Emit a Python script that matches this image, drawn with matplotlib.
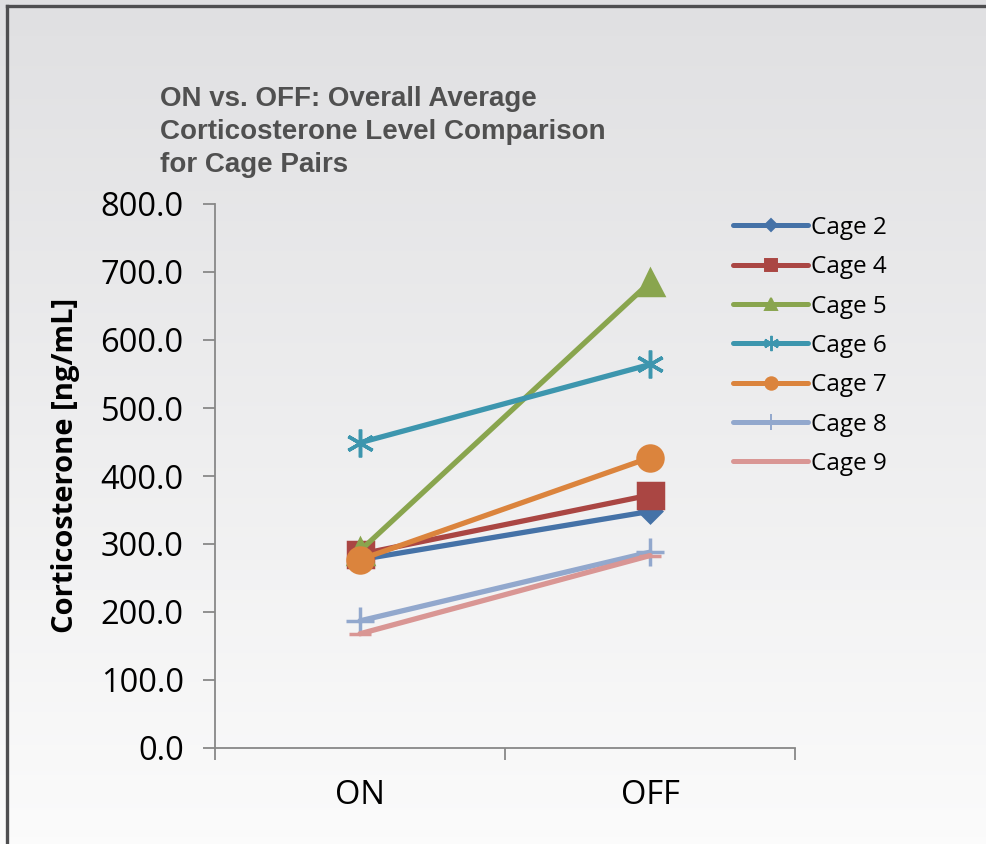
import matplotlib
matplotlib.use("Agg")
import matplotlib.pyplot as plt
import numpy as np
from matplotlib.lines import Line2D


CATEGORIES = ["ON", "OFF"]
CAGES = ["Cage 2", "Cage 4", "Cage 5", "Cage 6", "Cage 7", "Cage 8", "Cage 9"]
ON_VALUES = [277.0, 285.0, 290.0, 449.0, 277.0, 187.0, 168.0]
OFF_VALUES = [348.0, 372.0, 685.0, 564.0, 427.0, 288.0, 283.0]
Y_TICKS = [0, 100, 200, 300, 400, 500, 600, 700, 800]

COLORS = ["#4572A7", "#AA4643", "#89A54E", "#3D96AE", "#DB843D", "#92A8CD", "#D99694"]
MARKERS = ["D", "s", "^", (6, 2, 0), "o", "+", "_"]
MARKER_SIZES = [11, 18, 18, 20, 18, 20, 16]
LEGEND_MARKER_SIZES = [6, 9, 9, 11, 9, 11, 8]


def draw_background(fig):
    bg = fig.add_axes([0, 0, 1, 1], zorder=-10)
    top = np.array([0.878, 0.878, 0.886])
    bottom = np.array([0.985, 0.985, 0.985])
    t = np.linspace(0, 1, 256)[:, None]
    grad = top + (bottom - top) * t
    bg.imshow(grad[:, None, :].repeat(2, axis=1), aspect="auto", extent=[0, 1, 0, 1],
              origin="upper")
    bg.set_xlim(0, 1)
    bg.set_ylim(0, 1)
    bg.axis("off")
    # outer frame: only the left and top edges fall inside the picture
    left_x = 7.5 / 987
    top_y = 1 - 5.5 / 844
    bg.add_line(Line2D([left_x, left_x], [-0.1, top_y], color="#4e4e50", linewidth=2.4,
                       solid_capstyle="projecting"))
    bg.add_line(Line2D([left_x, 1.1], [top_y, top_y], color="#4e4e50", linewidth=2.4,
                       solid_capstyle="projecting"))


def main():
    plt.rcParams["font.family"] = ["Open Sans", "DejaVu Sans"]
    fig = plt.figure(figsize=(9.87, 8.44), dpi=100)
    draw_background(fig)

    ax = fig.add_axes([215 / 987, 1 - 748 / 844, 580 / 987, 544 / 844])
    ax.patch.set_alpha(0)

    x = np.arange(len(CATEGORIES)) + 0.5
    lines = []
    for i, cage in enumerate(CAGES):
        line, = ax.plot(x, [ON_VALUES[i], OFF_VALUES[i]], color=COLORS[i], linewidth=3.8,
                        marker=MARKERS[i], markersize=MARKER_SIZES[i], markeredgewidth=2.5,
                        solid_capstyle="round", label=cage)
        lines.append(line)

    ax.set_xlim(0, 2)
    ax.set_ylim(0, 800)
    ax.set_yticks(Y_TICKS)
    ax.set_yticklabels([f"{v:.1f}" for v in Y_TICKS], fontsize=23.5)
    ax.set_xticks([0, 1, 2])
    ax.set_xticklabels([])
    ax.set_xticks(x, minor=True)
    ax.set_xticklabels(CATEGORIES, minor=True, fontsize=23.5)
    ax.tick_params(axis="x", which="minor", length=0, pad=22)
    ax.tick_params(axis="both", which="major", length=8.5, color="#888888", width=1.3)
    ax.tick_params(axis="y", pad=14)

    for side in ["top", "right"]:
        ax.spines[side].set_visible(False)
    for side in ["left", "bottom"]:
        ax.spines[side].set_color("#888888")
        ax.spines[side].set_linewidth(1.3)

    ax.set_ylabel("Corticosterone [ng/mL]", fontsize=21, fontweight="bold")
    ax.yaxis.set_label_coords(-0.232, 0.52)

    fig.text(160 / 987, 1 - 86 / 844,
             "ON vs. OFF: Overall Average\nCorticosterone Level Comparison\nfor Cage Pairs",
             fontsize=20, fontweight="bold", color="#505050", family="Liberation Sans",
             ha="left", va="top", linespacing=1.36)

    leg = fig.legend(lines, CAGES, loc="upper left", bbox_to_anchor=(733 / 987, 1 - 216 / 844),
                     frameon=False, fontsize=17.5, handlelength=3.1, handletextpad=0.1,
                     labelspacing=0.63, borderaxespad=0, borderpad=0)
    for h, ms in zip(leg.legend_handles, LEGEND_MARKER_SIZES):
        h.set_markersize(ms)
        h.set_markeredgewidth(1.4)
        h.set_linewidth(3.6)

    fig.savefig("out.png", dpi=100)


if __name__ == "__main__":
    main()
